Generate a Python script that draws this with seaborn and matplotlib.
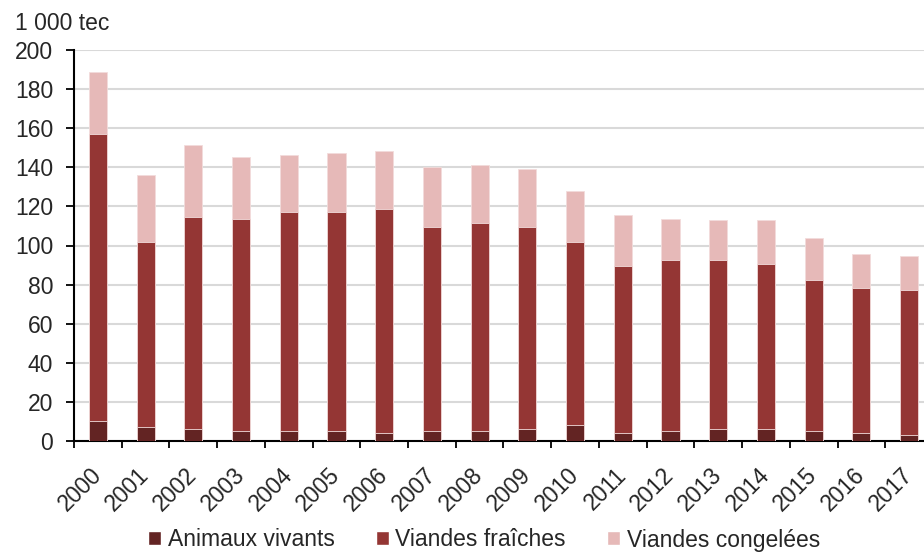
import numpy as np
import pandas as pd
import matplotlib
matplotlib.use('Agg')
import matplotlib.pyplot as plt
import seaborn as sns
from matplotlib.patches import Patch

sns.set_style('white')
plt.rcParams['font.family'] = ['Liberation Sans', 'DejaVu Sans']

# données (1 000 tec)
annees = [str(a) for a in range(2000, 2018)]
animaux_vivants = [10, 7, 6, 5, 5, 5, 4, 5, 5, 6, 8, 4, 5, 6, 6, 5, 4, 3]
viandes_fraiches = [147, 94.6, 108.6, 108.8, 111.9, 111.9, 114.7, 104.7, 106.6,
                    103.5, 93.6, 85.4, 87.5, 86.5, 84.5, 77.3, 74.3, 74.3]
viandes_congelees = [31.9, 34.3, 36.8, 31.5, 29.4, 30.4, 29.6, 30.5, 29.6,
                     29.5, 26.4, 26.4, 21.3, 20.3, 22.3, 21.4, 17.2, 17.2]
series = ['Animaux vivants', 'Viandes fraîches', 'Viandes congelées']
couleurs = ['#632423', '#943634', '#E6B9B8']

df = pd.DataFrame({'annee': annees,
                   'Animaux vivants': animaux_vivants,
                   'Viandes fraîches': viandes_fraiches,
                   'Viandes congelées': viandes_congelees})
# cumul pour empiler
df['cum1'] = df['Animaux vivants']
df['cum2'] = df['cum1'] + df['Viandes fraîches']
df['cum3'] = df['cum2'] + df['Viandes congelées']

fig = plt.figure(figsize=(9.24, 5.54), dpi=100)
ax = fig.add_axes([74/924, 113/554, (933-74)/924, 391/554])

# barres du haut vers le bas (superposition)
for col, c in zip(['cum3', 'cum2', 'cum1'], couleurs[::-1]):
    sns.barplot(data=df, x='annee', y=col, color=c, width=0.38, errorbar=None,
                edgecolor='#F2DCDB', linewidth=0.6, saturation=1, ax=ax, zorder=3)

ax.set_xlabel('')
ax.set_ylabel('')
ax.set_ylim(0, 200)
ax.set_xlim(-0.5, len(annees) - 0.5)
ax.set_yticks(np.arange(0, 201, 20))
ax.yaxis.grid(True, color='#D9D9D9', linewidth=1.5, zorder=0)
ax.set_axisbelow(True)

for s in ['top', 'right']:
    ax.spines[s].set_visible(False)
for s in ['left', 'bottom']:
    ax.spines[s].set_color('black')
    ax.spines[s].set_linewidth(1.5)

fs = 16.5
ax.tick_params(axis='y', direction='out', length=6, width=1.3, color='black',
               labelsize=fs, pad=9, left=True)
ax.set_xticks(np.arange(len(annees)))
ax.set_xticklabels(annees, rotation=45, ha='right', va='center',
                   rotation_mode='anchor')
ax.set_xticks(np.arange(-0.5, len(annees), 1), minor=True)
ax.tick_params(axis='x', which='major', length=0, labelsize=fs, pad=22)
ax.tick_params(axis='x', which='minor', direction='out', length=5, width=1.3,
               color='black', bottom=True)

fig.text(15/924, 1 - 24/554, '1 000 tec', fontsize=fs, va='center', ha='left')

handles = [Patch(facecolor=c, label=l) for c, l in zip(couleurs, series)]
fig.legend(handles=handles, loc='center', bbox_to_anchor=(0.524, 14/554),
           ncol=3, frameon=False, fontsize=fs, handlelength=0.55, handleheight=0.55,
           handletextpad=0.3, columnspacing=1.8)

plt.savefig('out.png', dpi=100)
